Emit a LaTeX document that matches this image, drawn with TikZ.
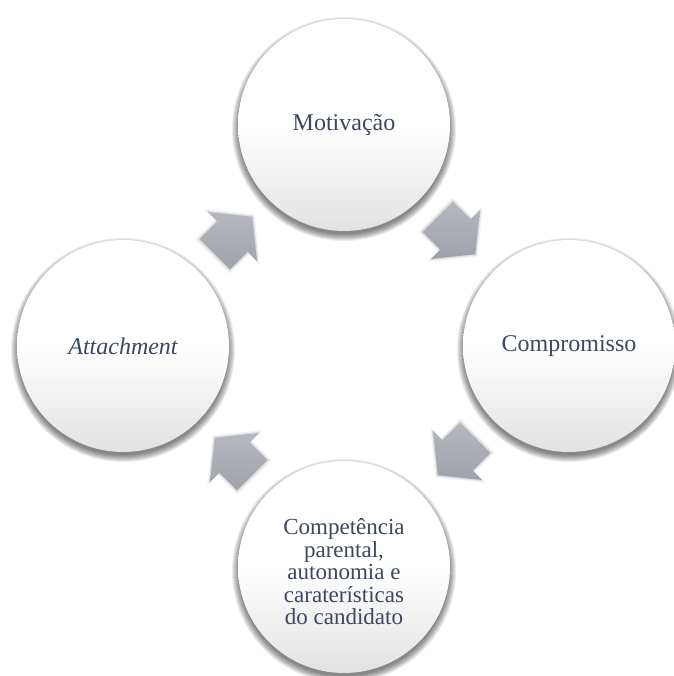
\documentclass[tikz,border=0pt]{standalone}
\usepackage{fontspec}
\setmainfont{Liberation Serif}
\usetikzlibrary{calc}
\definecolor{txt}{RGB}{59,72,95}
\definecolor{arrl}{RGB}{182,184,192}
\definecolor{arrd}{RGB}{160,162,170}
\definecolor{cbot}{RGB}{226,226,226}
\pgfdeclareverticalshading{circshade}{100bp}{color(0bp)=(cbot); color(25bp)=(cbot); color(50bp)=(white); color(100bp)=(white)}
\pgfdeclareverticalshading{arrshade}{100bp}{color(0bp)=(arrd); color(25bp)=(arrd); color(75bp)=(arrl); color(100bp)=(arrl)}
\tikzset{
  circ/.style={circle, minimum size=212pt, inner sep=0pt, shading=circshade, text=txt,
    font=\fontsize{24}{23}\selectfont, align=center},
  blockarrow/.pic={
    \foreach \s in {1.12,1.07,1.03}{
      \fill[black, opacity=0.05, scale=\s] (-26.5,-21.5) -- (-1.5,-21.5) -- (-1.5,-34.7) -- (26.5,0) -- (-1.5,34.7) -- (-1.5,21.5) -- (-26.5,21.5) -- cycle;
    }
    \shade[shading=arrshade] (-26.5,-21.5) -- (-1.5,-21.5) -- (-1.5,-34.7) -- (26.5,0) -- (-1.5,34.7) -- (-1.5,21.5) -- (-26.5,21.5) -- cycle;
  }
}
\begin{document}
\begin{tikzpicture}[x=1pt, y=1pt]
\fill[white] (0,0) rectangle (673,676);
\useasboundingbox (0,0) rectangle (673,676);
% shadows (y measured upward: 676 - pixel row)
\foreach \cx/\cy in {344/551, 569/330, 344/109, 123/330}{
  \foreach \i in {1,...,8}{
    \fill[black, opacity=0.075] (\cx,\cy-4) circle ({104+\i});
  }
}
\node[circ] (mot) at (344,551) {Motivação};
\node[circ] (com) at (569,330) {Compromisso};
\node[circ] (comp) at (344,109) {};
\node[text=txt, font=\fontsize{23}{22.5}\selectfont, align=center] (comptxt) at (344,104) {Competência\\parental,\\autonomia e\\caraterísticas\\do candidato};
\node[circ] (att) at (123,330) {\itshape Attachment};
\pic[rotate=45] at ($(att)!0.5!(mot)$) {blockarrow};
\pic[rotate=-45] at ($(mot)!0.5!(com)$) {blockarrow};
\pic[rotate=-135] at ($(com)!0.5!(comp)$) {blockarrow};
\pic[rotate=135] at ($(comp)!0.5!(att)$) {blockarrow};
\end{tikzpicture}
\end{document}
